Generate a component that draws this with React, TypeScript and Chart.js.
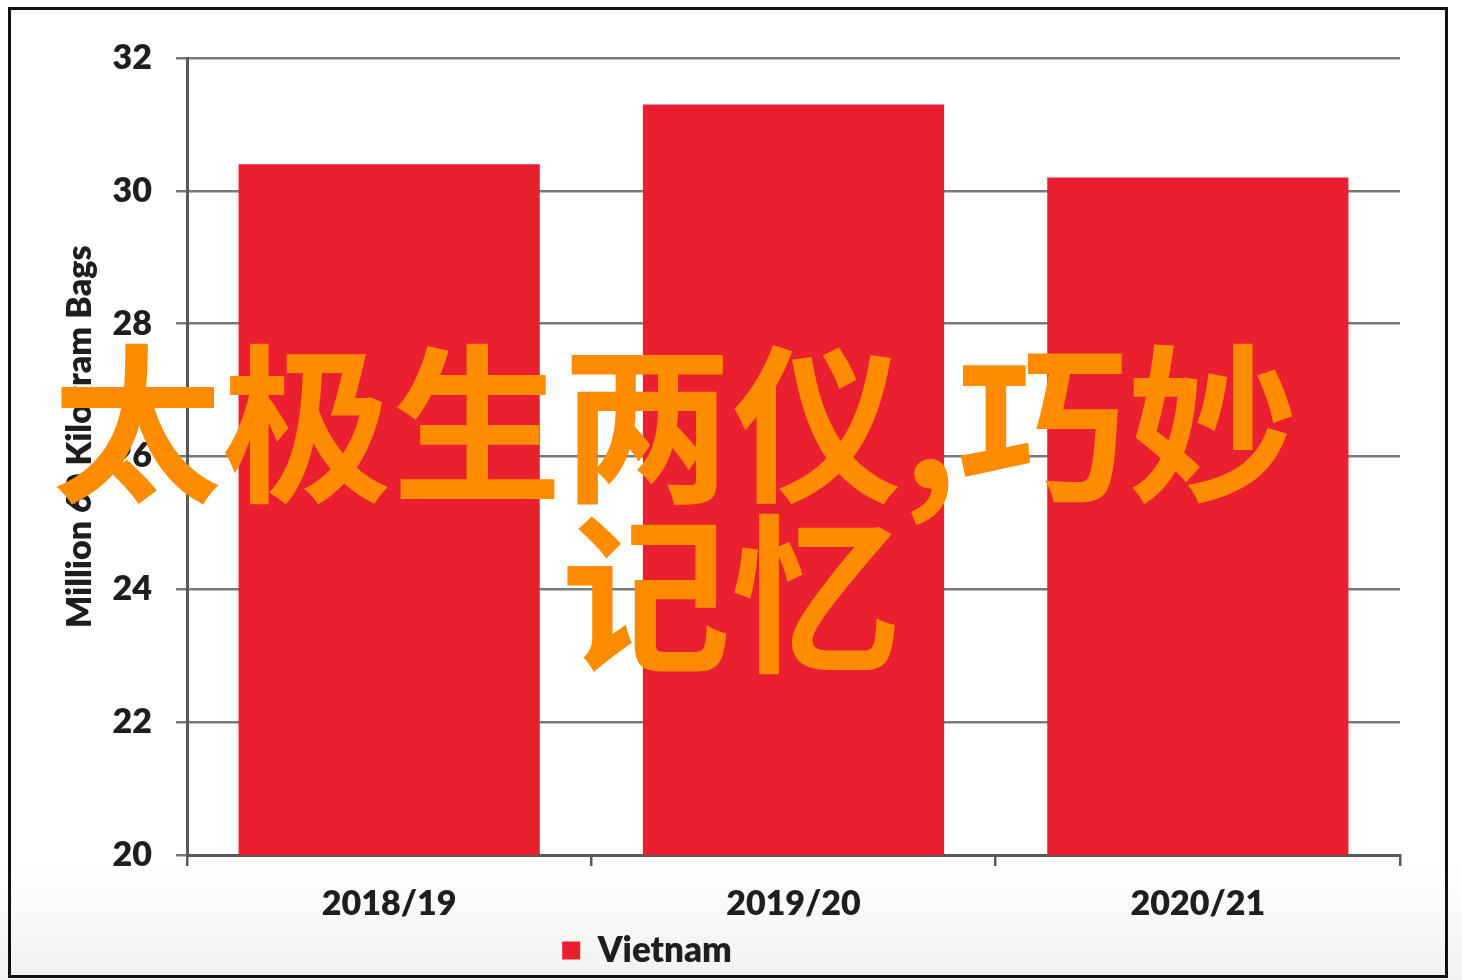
import React, { useEffect, useRef } from "react";
import { Chart, registerables } from "chart.js";

Chart.register(...registerables);

// ---- data ----
const categories = ["2018/19", "2019/20", "2020/21"];
const vietnamValues = [30.4, 31.3, 30.2];
const seriesLabel = "Vietnam";
const yMin = 20;
const yMax = 32;
const yStep = 2;
const yTitle = "Million 60 Kilogram Bags";
const overlayLine1 = "太极生两仪,巧妙";
const overlayLine2 = "记忆";

// ---- styles ----
const BAR_RED = "#EA2030";
const GRID_GRAY = "#7a7a7a";
const AXIS_GRAY = "#5a5a5a";
const TEXT_DARK = "#1e1e1e";
const LABEL_FONT = "Lato, 'Open Sans', 'DejaVu Sans', sans-serif";
const LABEL_WEIGHT = 800;
const LEGEND_CENTER_X = 647;
const TITLE_SHIFT = "     ";

export default function App() {
  const canvasRef = useRef<HTMLCanvasElement | null>(null);

  useEffect(() => {
    const canvas = canvasRef.current;
    if (!canvas) return;

    const legendShift = {
      id: "legendShift",
      afterLayout(chart: any) {
        const lg = chart.legend;
        if (!lg) return;
        const shift = LEGEND_CENTER_X - (lg.left + lg.right) / 2;
        lg.left += shift;
        lg.right += shift;
      },
    };

    const chart = new Chart(canvas, {
      type: "bar",
      data: {
        labels: categories,
        datasets: [
          {
            label: seriesLabel,
            data: vietnamValues,
            backgroundColor: BAR_RED,
            borderWidth: 0,
            barPercentage: 0.745,
            categoryPercentage: 1,
          },
        ],
      },
      plugins: [legendShift],
      options: {
        responsive: false,
        animation: false,
        devicePixelRatio: 1,
        layout: { padding: { top: 58, right: 62, left: 0, bottom: 2 } },
        plugins: {
          tooltip: { enabled: false },
          title: { display: false },
          legend: {
            display: true,
            position: "bottom",
            labels: {
              boxWidth: 18,
              boxHeight: 18,
              padding: 10,
              color: TEXT_DARK,
              font: { family: LABEL_FONT, weight: LABEL_WEIGHT, size: 35 },
            },
          },
        },
        scales: {
          x: {
            offset: true,
            grid: {
              offset: true,
              drawOnChartArea: false,
              drawTicks: true,
              tickLength: 11,
              color: AXIS_GRAY,
              lineWidth: 2.5,
            },
            border: { display: true, color: AXIS_GRAY, width: 3 },
            ticks: {
              color: TEXT_DARK,
              padding: 18,
              maxRotation: 0,
              font: { family: LABEL_FONT, weight: LABEL_WEIGHT, size: 34 },
            },
            afterFit: (axis: any) => {
              axis.height = 68;
            },
          },
          y: {
            min: yMin,
            max: yMax,
            grid: {
              color: GRID_GRAY,
              lineWidth: 2.5,
              tickLength: 11,
            },
            border: { display: true, color: AXIS_GRAY, width: 3 },
            ticks: {
              stepSize: yStep,
              color: TEXT_DARK,
              padding: 24,
              font: { family: LABEL_FONT, weight: LABEL_WEIGHT, size: 34 },
            },
            title: {
              display: true,
              text: TITLE_SHIFT + yTitle,
              color: TEXT_DARK,
              font: { family: LABEL_FONT, weight: LABEL_WEIGHT, size: 34 },
              padding: { top: 60, bottom: 0 },
            },
            afterFit: (axis: any) => {
              axis.width = 187;
            },
          },
        },
      },
    });

    return () => {
      chart.destroy();
    };
  }, []);

  const overlayStyle: React.CSSProperties = {
    position: "absolute",
    fontFamily: "'Noto Sans CJK SC', sans-serif",
    fontWeight: 700,
    fontSize: 170,
    lineHeight: "170px",
    color: "#FF8C00",
    whiteSpace: "nowrap",
    margin: 0,
  };

  return (
    <div
      style={{
        position: "absolute",
        left: 0,
        top: 0,
        width: 1462,
        height: 980,
        overflow: "hidden",
        background: "linear-gradient(to bottom, #ffffff 0%, #ffffff 88%, #f1f1f1 100%)",
      }}
    >
      <canvas
        ref={canvasRef}
        width={1462}
        height={980}
        style={{ position: "absolute", left: 0, top: 0, width: 1462, height: 980 }}
      />
      <div
        style={{
          position: "absolute",
          left: 8,
          top: 7,
          width: 1440,
          height: 971,
          boxSizing: "border-box",
          border: "3px solid #111",
          pointerEvents: "none",
        }}
      />
      <div style={{ ...overlayStyle, left: 52, top: 330 }}>{overlayLine1}</div>
      <div style={{ ...overlayStyle, left: 561, top: 500 }}>{overlayLine2}</div>
    </div>
  );
}
